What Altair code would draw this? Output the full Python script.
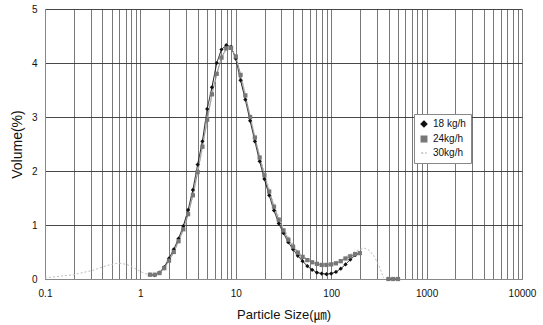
import altair as alt
import pandas as pd

# ---- data ----
series_names = ["18 kg/h", "24kg/h", "30kg/h"]

sizes_main = [1.259, 1.413, 1.585, 1.778, 1.995, 2.239, 2.512, 2.818, 3.162, 3.548,
              3.981, 4.467, 5.012, 5.623, 6.310, 7.079, 7.943, 8.913, 10.0, 11.22,
              12.59, 14.13, 15.85, 17.78, 19.95, 22.39, 25.12, 28.18, 31.62, 35.48,
              39.81, 44.67, 50.12, 56.23, 63.10, 70.79, 79.43, 89.13, 100.0, 112.2,
              125.9, 141.3, 158.5, 177.8, 199.5]

v18 = [0.08, 0.07, 0.12, 0.22, 0.38, 0.55, 0.75, 0.98, 1.28, 1.65,
       2.12, 2.55, 3.15, 3.55, 4.00, 4.25, 4.33, 4.30, 4.08, 3.68,
       3.32, 2.93, 2.55, 2.18, 1.85, 1.55, 1.27, 1.03, 0.85, 0.68,
       0.55, 0.43, 0.33, 0.24, 0.17, 0.12, 0.10, 0.09, 0.10, 0.13,
       0.19, 0.27, 0.36, 0.44, 0.48]

v24 = [0.08, 0.08, 0.11, 0.20, 0.34, 0.50, 0.70, 0.92, 1.20, 1.55,
       1.98, 2.45, 2.95, 3.42, 3.80, 4.10, 4.27, 4.28, 4.12, 3.78,
       3.40, 3.00, 2.62, 2.25, 1.92, 1.62, 1.34, 1.10, 0.90, 0.73,
       0.60, 0.49, 0.41, 0.35, 0.31, 0.28, 0.26, 0.26, 0.27, 0.29,
       0.33, 0.38, 0.42, 0.46, 0.48]

sizes_fine = [0.1, 0.112, 0.126, 0.141, 0.158, 0.178, 0.2, 0.224, 0.251, 0.282,
              0.316, 0.355, 0.398, 0.447, 0.501, 0.562, 0.631, 0.708, 0.794, 0.891,
              1.0, 1.122]
sizes_coarse = [223.9, 251.2, 281.8, 316.2, 354.8]

v30_fine = [0.02, 0.03, 0.04, 0.05, 0.06, 0.07, 0.08, 0.10, 0.12, 0.14,
            0.16, 0.19, 0.22, 0.25, 0.27, 0.29, 0.29, 0.27, 0.24, 0.19,
            0.14, 0.10]
v30_main = [0.08, 0.08, 0.10, 0.19, 0.33, 0.49, 0.68, 0.90, 1.18, 1.52,
            1.95, 2.42, 2.92, 3.40, 3.78, 4.08, 4.25, 4.27, 4.12, 3.80,
            3.43, 3.04, 2.66, 2.30, 1.97, 1.67, 1.39, 1.15, 0.95, 0.78,
            0.64, 0.52, 0.43, 0.37, 0.33, 0.30, 0.29, 0.29, 0.30, 0.32,
            0.36, 0.41, 0.46, 0.51, 0.55]
v30_coarse = [0.57, 0.53, 0.42, 0.25, 0.02]

tail_sizes = [398.1, 446.7, 501.2]
tail_values = [0.0, 0.0, 0.0]

x_ticks = [0.1, 0.2, 0.3, 0.4, 0.5, 0.6, 0.7, 0.8, 0.9,
           1, 2, 3, 4, 5, 6, 7, 8, 9,
           10, 20, 30, 40, 50, 60, 70, 80, 90,
           100, 200, 300, 400, 500, 600, 700, 800, 900,
           1000, 2000, 3000, 4000, 5000, 6000, 7000, 8000, 9000, 10000]
y_ticks = [0, 1, 2, 3, 4, 5]

# ---- build table ----
rows = []
for s, v in zip(sizes_main, v18):
    rows.append({"size": s, "vol": v, "series": series_names[0], "part": "a"})
for s, v in zip(tail_sizes, tail_values):
    rows.append({"size": s, "vol": v, "series": series_names[0], "part": "b"})
for s, v in zip(sizes_main, v24):
    rows.append({"size": s, "vol": v, "series": series_names[1], "part": "a"})
for s, v in zip(tail_sizes, tail_values):
    rows.append({"size": s, "vol": v, "series": series_names[1], "part": "b"})
for s, v in zip(sizes_fine + sizes_main + sizes_coarse, v30_fine + v30_main + v30_coarse):
    rows.append({"size": s, "vol": v, "series": series_names[2], "part": "a"})
df = pd.DataFrame(rows)

font = "Liberation Sans"

x_enc = alt.X("size:Q",
              scale=alt.Scale(type="log", domain=[0.1, 10000], nice=False),
              axis=alt.Axis(values=x_ticks,
                            labelExpr="indexof([0.1,1,10,100,1000,10000], datum.value) >= 0 ? datum.label : ''",
                            format="~g",
                            title="Particle Size(㎛)",
                            grid=True, gridColor="#555555", gridWidth=0.8,
                            ticks=False, labelPadding=9, labelFontSize=10,
                            titleFontSize=13, titleFontWeight="normal",
                            titlePadding=10, labelFont=font, titleFont=font + ", Noto Sans CJK KR",
                            domainColor="#888888", labelColor="#111111", titleColor="#111111",
                            labelFlush=False))
y_enc = alt.Y("vol:Q",
              scale=alt.Scale(domain=[0, 5], nice=False),
              axis=alt.Axis(values=y_ticks, title="Volume(%)",
                            grid=True, gridColor="#333333", gridWidth=0.9,
                            ticks=False, labelPadding=8, labelFontSize=10,
                            titleFontSize=14, titleFontWeight="normal",
                            titlePadding=7, labelFont=font, titleFont=font,
                            domainColor="#888888", labelColor="#111111", titleColor="#111111"))

legend_cfg = dict(title=None, orient="none", legendX=369, legendY=105,
                  fillColor="white", strokeColor="#888888", padding=5,
                  labelFontSize=10, labelFont=font, symbolSize=30,
                  rowPadding=3, labelColor="#111111")

color = alt.Color("series:N",
                  scale=alt.Scale(domain=series_names, range=["#111111", "#777777", "#bbbbbb"]),
                  legend=alt.Legend(**legend_cfg))

lines = alt.Chart(df).mark_line(strokeWidth=1).encode(
    x=x_enc, y=y_enc, color=color,
    strokeDash=alt.StrokeDash("series:N",
                              scale=alt.Scale(domain=series_names, range=[[1, 0], [1, 0], [2, 2]]),
                              legend=alt.Legend(**legend_cfg)),
    detail="part:N",
    order="size:Q")

points = alt.Chart(df[df["series"] != series_names[2]]).mark_point(filled=True, size=18, opacity=1).encode(
    x=x_enc, y=y_enc, color=color,
    shape=alt.Shape("series:N",
                    scale=alt.Scale(domain=series_names, range=["diamond", "square", "stroke"]),
                    legend=alt.Legend(**legend_cfg)))

chart = alt.layer(lines, points).properties(
    width=477, height=270,
    autosize=alt.AutoSizeParams(type="none"),
    padding={"left": 45, "top": 9, "right": 21, "bottom": 46},
    background="white",
).configure_view(stroke=None)

chart.save("out.html", embed_options={"renderer": "svg", "actions": False})
